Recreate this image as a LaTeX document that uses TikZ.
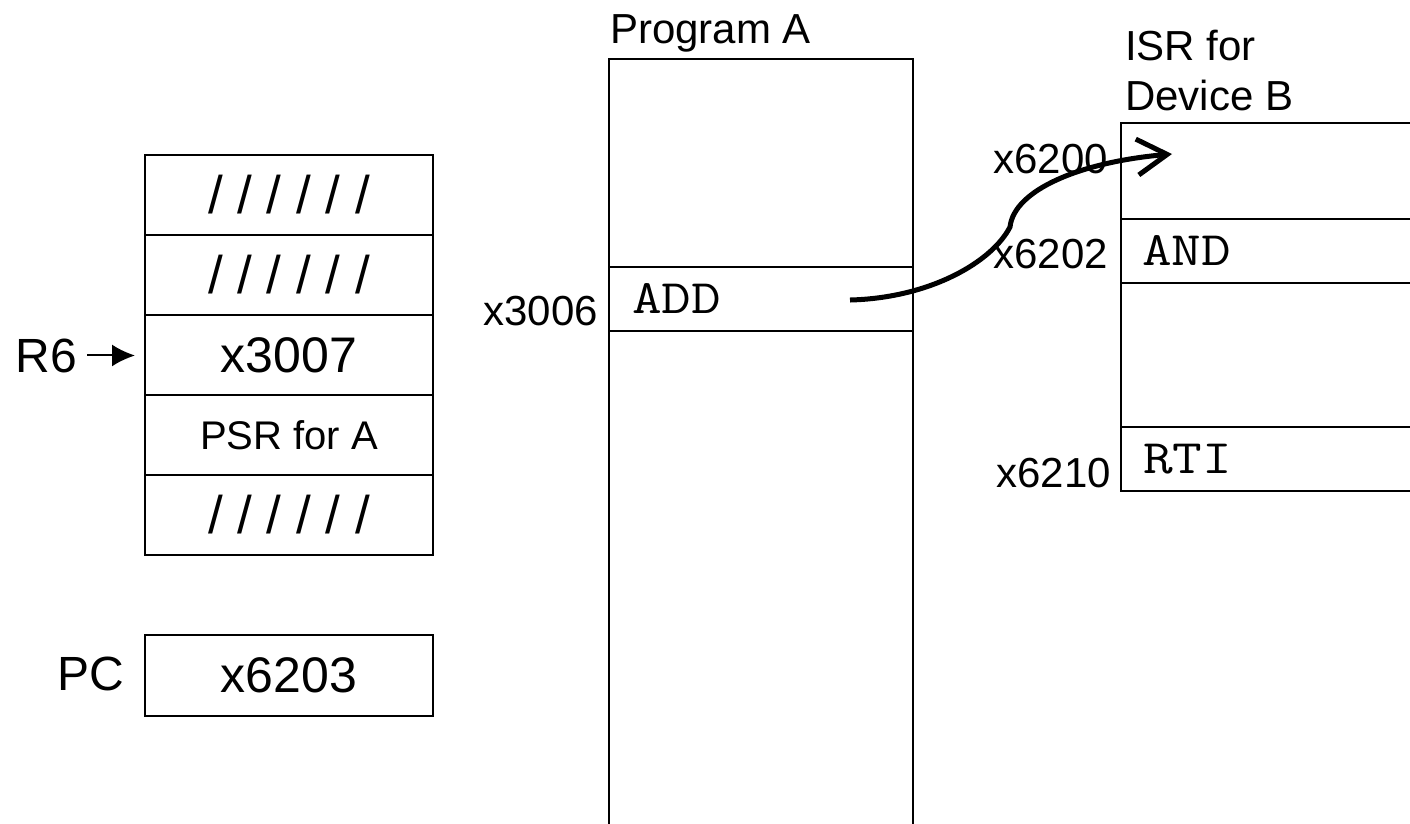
\documentclass[tikz,border=0pt]{standalone}
\usepackage{fontspec}
\setmainfont{Liberation Sans}
\usepackage{graphicx}
\usetikzlibrary{arrows.meta}
\newcommand{\fz}[1]{\fontsize{#1}{#1}\selectfont}
\begin{document}
\begin{tikzpicture}[x=1pt,y=-1pt,
  cell/.style={draw, line width=1.5pt, inner sep=0pt, outer sep=0pt, anchor=north west, minimum width=288pt},
  lbl/.style={inner sep=0pt, outer sep=0pt},
  mono/.style={lbl, anchor=base west}]
\useasboundingbox (0,0) rectangle (1410,823);
\clip (0,0) rectangle (1410,823);

% stack
\node[cell, minimum height=80pt] (s1) at (145,155) {\fz{53}/ / / / / /};
\node[cell, minimum height=80pt] (s2) at (145,235) {\fz{53}/ / / / / /};
\node[cell, minimum height=80pt] (s3) at (145,315) {\fz{50}x3007};
\node[cell, minimum height=80pt] (s4) at (145,395) {\fz{40}PSR for A};
\node[cell, minimum height=80pt] (s5) at (145,475) {\fz{53}/ / / / / /};
\node[lbl, anchor=base east] (r6) at (77,372) {\fz{48}R6};
\draw[line width=2pt, -{Latex[length=23pt,width=22pt]}, shorten <=10pt, shorten >=10pt] (r6.east) -- (r6.east -| s3.west);

% PC
\node[cell, minimum height=81pt] (pcbox) at (145,635) {\fz{50}x6203};
\node[lbl, anchor=base east] (pc) at (124,690) {\fz{48}PC};

% Program A
\node[lbl, anchor=base west] (ptitle) at (610,43) {\fz{42}Program A};
\node[cell, minimum width=304pt, minimum height=208pt] (pa1) at (609,59) {};
\node[cell, minimum width=304pt, minimum height=64pt] (pa2) at (609,267) {};
\node[cell, minimum width=304pt, minimum height=530pt] (pa3) at (609,331) {};
\node[lbl, anchor=base east] (a3006) at (598,325) {\fz{42}x3006};
\node[mono] (addtxt) at (632,313) {\scalebox{1.2}[1]{\fz{48}\ttfamily ADD}};

% ISR for Device B
\node[lbl, anchor=base west] (isr1) at (1125,60) {\fz{42}ISR for};
\node[lbl, anchor=base west] (isr2) at (1125,110) {\fz{42}Device B};
\node[cell, minimum width=330pt, minimum height=96pt] (b1) at (1121,123) {};
\node[cell, minimum width=330pt, minimum height=64pt] (b2) at (1121,219) {};
\node[cell, minimum width=330pt, minimum height=144pt] (b3) at (1121,283) {};
\node[cell, minimum width=330pt, minimum height=64pt] (b4) at (1121,427) {};
\node[lbl, anchor=base east] (a6200) at (1108,173) {\fz{42}x6200};
\node[lbl, anchor=base east] (a6202) at (1108,268) {\fz{42}x6202};
\node[lbl, anchor=base east] (a6210) at (1111,487) {\fz{42}x6210};
\node[mono] (andtxt) at (1142,265) {\scalebox{1.2}[1]{\fz{48}\ttfamily AND}};
\node[mono] (rtitxt) at (1143,473) {\scalebox{1.2}[1]{\fz{48}\ttfamily RTI}};

% jump arrow
\coordinate (cs) at (850,300);
\coordinate (ce) at (1172,154);
\draw[line width=5pt, -{Straight Barb[length=30pt,width=36pt]}]
  (cs) .. controls (930,298) and (992,262) .. (1010,227)
       .. controls (1014,190) and (1080,162) .. (ce);
\end{tikzpicture}
\end{document}
